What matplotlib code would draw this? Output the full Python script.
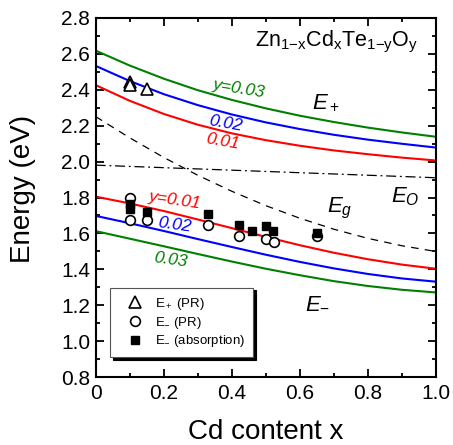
import matplotlib
matplotlib.use('Agg')
import matplotlib.pyplot as plt
from matplotlib.ticker import MultipleLocator, FormatStrFormatter

plt.rcParams['font.family'] = 'Liberation Sans'
plt.rcParams['mathtext.fontset'] = 'custom'
plt.rcParams['mathtext.rm'] = 'Liberation Sans'
plt.rcParams['mathtext.it'] = 'Liberation Sans:italic'

# Cd content
x = [0.0, 0.1, 0.2, 0.3, 0.4, 0.5, 0.6, 0.7, 0.8, 0.9, 1.0]

# upper band E+ for y = 0.01, 0.02, 0.03
ep_01 = [2.425, 2.338, 2.265, 2.205, 2.157, 2.119, 2.088, 2.062, 2.041, 2.022, 2.006]
ep_02 = [2.532, 2.448, 2.375, 2.314, 2.262, 2.218, 2.181, 2.149, 2.122, 2.099, 2.078]
ep_03 = [2.617, 2.534, 2.461, 2.397, 2.343, 2.296, 2.255, 2.220, 2.189, 2.162, 2.138]

# lower band E- for y = 0.01, 0.02, 0.03
em_01 = [1.805, 1.767, 1.725, 1.678, 1.630, 1.581, 1.535, 1.493, 1.457, 1.427, 1.404]
em_02 = [1.698, 1.657, 1.614, 1.569, 1.525, 1.482, 1.442, 1.406, 1.375, 1.350, 1.332]
em_03 = [1.613, 1.571, 1.529, 1.486, 1.444, 1.404, 1.368, 1.335, 1.308, 1.287, 1.272]

# host band gap and O level
eg = [2.250, 2.132, 2.023, 1.924, 1.835, 1.755, 1.685, 1.624, 1.573, 1.532, 1.500]
eo = [1.980, 1.973, 1.966, 1.959, 1.952, 1.945, 1.938, 1.931, 1.924, 1.917, 1.910]

# measured points
x_pr_plus = [0.10, 0.10, 0.15]
e_pr_plus = [2.440, 2.425, 2.405]

x_pr_minus = [0.10, 0.10, 0.15, 0.33, 0.42, 0.50, 0.525, 0.65]
e_pr_minus = [1.800, 1.676, 1.674, 1.648, 1.588, 1.568, 1.555, 1.588]

x_abs = [0.10, 0.10, 0.15, 0.33, 0.42, 0.46, 0.50, 0.52, 0.65]
e_abs = [1.765, 1.735, 1.721, 1.708, 1.647, 1.612, 1.641, 1.612, 1.602]

fig = plt.figure(figsize=(4.53, 4.45), dpi=100)
ax = fig.add_axes([0.2113, 0.1521, 0.7505, 0.8081])

lw = 1.5
ax.plot(x, ep_03, color='green', lw=lw)
ax.plot(x, ep_02, color='blue', lw=lw)
ax.plot(x, ep_01, color='red', lw=lw)
ax.plot(x, em_01, color='red', lw=lw)
ax.plot(x, em_02, color='blue', lw=lw)
ax.plot(x, em_03, color='green', lw=lw)
ax.plot(x, eg, color='black', lw=0.9, ls=(0, (6, 5)))
ax.plot(x, eo, color='black', lw=0.9, ls=(0, (8, 3, 1.5, 3)))

ax.plot(x_pr_plus, e_pr_plus, ls='none', marker='^', ms=8.5, mfc='white',
        mec='black', mew=1.2, label=r'E$_+$ (PR)')
ax.plot(x_pr_minus, e_pr_minus, ls='none', marker='o', ms=7, mfc='white',
        mec='black', mew=1.2, label=r'E$_{-}$ (PR)')
ax.plot(x_abs, e_abs, ls='none', marker='s', ms=6, mfc='black',
        mec='black', label=r'E$_{-}$ (absorption)')

ax.set_xlim(0, 1.0)
ax.set_ylim(0.8, 2.8)
ax.xaxis.set_minor_locator(MultipleLocator(0.1))
ax.yaxis.set_major_locator(MultipleLocator(0.2))
ax.yaxis.set_minor_locator(MultipleLocator(0.1))
ax.yaxis.set_major_formatter(FormatStrFormatter('%.1f'))
ax.set_xticks([0, 0.2, 0.4, 0.6, 0.8, 1.0])
ax.set_xticklabels(['0', '0.2', '0.4', '0.6', '0.8', '1.0'])
ax.tick_params(which='both', direction='in', top=True, right=True, width=1.3,
               labelsize=15)
ax.tick_params(axis='x', pad=5)
ax.tick_params(axis='y', pad=4)
ax.tick_params(which='major', length=5.5)
ax.tick_params(which='minor', length=3)
for s in ax.spines.values():
    s.set_linewidth(1.5)

ax.set_xlabel('Cd content x', fontsize=20)
ax.set_ylabel('Energy (eV)', fontsize=20)
ax.xaxis.set_label_coords(0.5, -0.116)
ax.yaxis.set_label_coords(-0.176, 0.525)

# labels
ax.text(0.948, 2.643, r'$\mathrm{Zn_{1{-}x}Cd_xTe_{1{-}y}O_y}$', fontsize=15.5,
        ha='right', va='baseline')
ax.text(0.422, 2.404, 'y=0.03', color='green', style='italic', fontsize=12.5,
        rotation=-9, ha='center', va='center')
ax.text(0.381, 2.214, '0.02', color='blue', style='italic', fontsize=12.5,
        rotation=-10, ha='center', va='center')
ax.text(0.373, 2.114, '0.01', color='red', style='italic', fontsize=12.5,
        rotation=-10, ha='center', va='center')
ax.text(0.233, 1.786, 'y=0.01', color='red', style='italic', fontsize=12.5,
        rotation=-8, ha='center', va='center')
ax.text(0.233, 1.647, '0.02', color='blue', style='italic', fontsize=12.5,
        rotation=-8, ha='center', va='center')
ax.text(0.219, 1.452, '0.03', color='green', style='italic', fontsize=12.5,
        rotation=-8, ha='center', va='center')

ax.text(0.637, 2.298, r'$E_+$', fontsize=16, ha='left', va='baseline')
ax.text(0.68, 1.718, r'$E_g$', fontsize=16, ha='left', va='baseline')
ax.text(0.87, 1.775, r'$E_O$', fontsize=16, ha='left', va='baseline')
ax.text(0.615, 1.185, r'$E_{-}$', fontsize=16, ha='left', va='baseline')

leg = ax.legend(loc='lower left', bbox_to_anchor=(0.042, 0.0556), borderaxespad=0,
                fontsize=9.5, frameon=True, fancybox=False,
                shadow={'color': 'black', 'alpha': 1}, labelspacing=0.22,
                handlelength=2.6, handletextpad=0.2, borderpad=0.6,
                edgecolor='#555555', framealpha=1)
leg.get_frame().set_linewidth(0.8)

fig.savefig('out.png', dpi=100)
